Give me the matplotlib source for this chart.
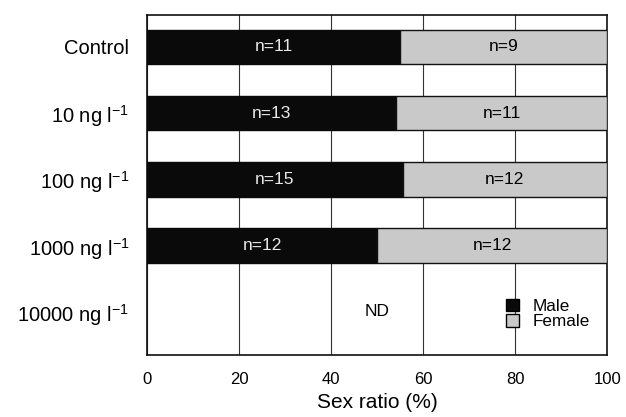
import matplotlib
matplotlib.use("Agg")
import matplotlib.pyplot as plt
from matplotlib.patches import Patch

plt.rcParams['font.family'] = ['Liberation Sans', 'DejaVu Sans']
plt.rcParams['mathtext.fontset'] = 'custom'
plt.rcParams['mathtext.rm'] = 'Liberation Sans'
plt.rcParams['mathtext.default'] = 'regular'

categories = ["Control", "10 ng l$^{-1}$", "100 ng l$^{-1}$", "1000 ng l$^{-1}$", "10000 ng l$^{-1}$"]
n_male = [11, 13, 15, 12, None]
n_female = [9, 11, 12, 12, None]
xticks = [0, 20, 40, 60, 80, 100]

fig = plt.figure(figsize=(6.26, 4.17), dpi=100)
ax = fig.add_axes([0.235, 0.149, 0.735, 0.815])

male_col = "#0a0a0a"
fem_col = "#c9c9c9"
bar_h = 0.52

for i, (m, f) in enumerate(zip(n_male, n_female)):
    if m is None:
        ax.text(50, i, "ND", ha="center", va="center", fontsize=12.5)
        continue
    tot = m + f
    mp = 100.0 * m / tot
    fp = 100.0 * f / tot
    ax.barh(i, mp, left=0, height=bar_h, color=male_col, edgecolor=male_col, linewidth=1, zorder=3)
    ax.barh(i, fp, left=mp, height=bar_h, color=fem_col, edgecolor="#111111", linewidth=1, zorder=3)
    ax.text(mp / 2, i, f"n={m}", ha="center", va="center", color="#e8e8e8", fontsize=12.5, zorder=4)
    ax.text(mp + fp / 2, i, f"n={f}", ha="center", va="center", color="black", fontsize=12.5, zorder=4)

ax.set_xlim(0, 100)
ax.set_ylim(4.65, -0.48)
ax.set_xticks(xticks)
ax.set_xticklabels([str(t) for t in xticks], fontsize=12)
ax.set_yticks(range(len(categories)))
ax.set_yticklabels(categories, fontsize=14.5)
ax.tick_params(axis="x", length=0, pad=12)
ax.tick_params(axis="y", length=0, pad=13)
ax.xaxis.grid(True, color="#333333", linewidth=0.8, zorder=1)
ax.set_axisbelow(True)
for s in ax.spines.values():
    s.set_linewidth(1.2)
    s.set_color("#111111")
ax.set_xlabel("Sex ratio (%)", fontsize=15, labelpad=5)

handles = [Patch(facecolor=male_col, edgecolor="black", label="Male"),
           Patch(facecolor=fem_col, edgecolor="black", label="Female")]
ax.legend(handles=handles, loc="upper left", bbox_to_anchor=(0.755, 0.2), frameon=False,
          fontsize=12.3, handlelength=0.75, handleheight=0.75, handletextpad=0.8,
          labelspacing=0.0, borderpad=0.2)

fig.savefig("out.png", dpi=100)
